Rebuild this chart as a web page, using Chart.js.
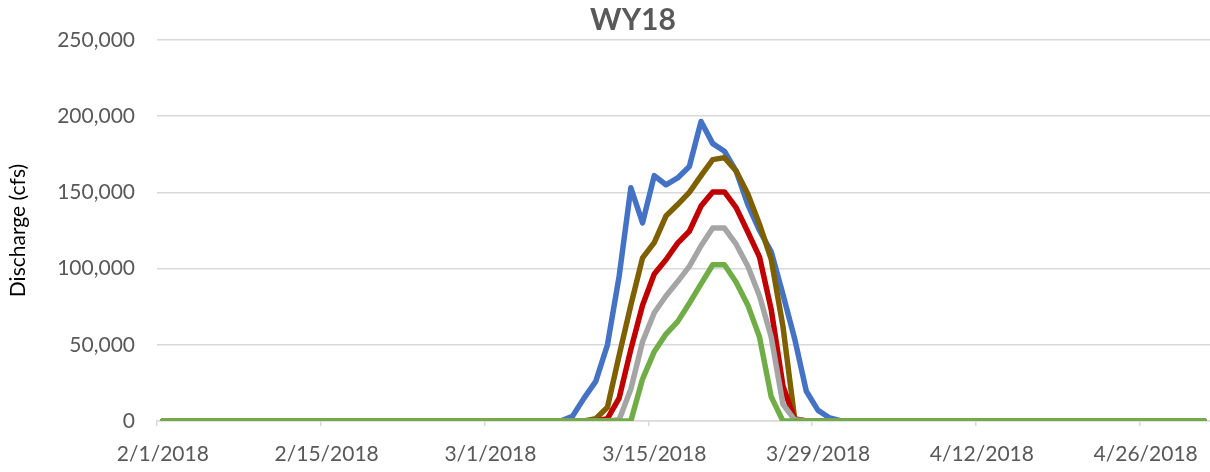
<!DOCTYPE html>
<html>
<head>
<meta charset="utf-8">
<script src="https://cdn.jsdelivr.net/npm/chart.js@4/dist/chart.umd.min.js"></script>
<style>
  body { margin: 0; background: #fff; }
  #wrap { width: 1210px; height: 472px; }
</style>
</head>
<body>
<div id="wrap"><canvas id="graph" width="1210" height="472"></canvas></div>
<script>
// daily categories, 2/1/2018 .. 5/1/2018
var startDate = [2018, 1, 1];
var dayCount = 90;
var labelEvery = 14;
var yTicks = [0, 50000, 100000, 150000, 200000, 250000];

var names = ['Series 1', 'Series 2', 'Series 3', 'Series 4', 'Series 5'];
var colors = ['#4472C4', '#7F6000', '#C00000', '#A5A5A5', '#70AD47'];

var blue = [
    0,0,0,0,0,0,0,0,0,0,
    0,0,0,0,0,0,0,0,0,0,
    0,0,0,0,0,0,0,0,0,0,
    0,0,0,0,0,3000,15000,26000,50000,95000,
    153000,130000,161000,155000,159500,167000,196500,182000,177000,164000,
    142000,125000,111000,83000,54000,19500,7000,2000,0,0,
    0,0,0,0,0,0,0,0,0,0,
    0,0,0,0,0,0,0,0,0,0,
    0,0,0,0,0,0,0,0,0,0
];
var brown = [
    0,0,0,0,0,0,0,0,0,0,
    0,0,0,0,0,0,0,0,0,0,
    0,0,0,0,0,0,0,0,0,0,
    0,0,0,0,0,0,0,1500,9000,43000,
    76000,107000,117000,134500,142000,150000,161000,171500,172800,164000,
    149000,129000,106000,62000,1500,0,0,0,0,0,
    0,0,0,0,0,0,0,0,0,0,
    0,0,0,0,0,0,0,0,0,0,
    0,0,0,0,0,0,0,0,0,0
];
var red = [
    0,0,0,0,0,0,0,0,0,0,
    0,0,0,0,0,0,0,0,0,0,
    0,0,0,0,0,0,0,0,0,0,
    0,0,0,0,0,0,0,0,1500,15000,
    47000,76000,96500,105800,116700,124500,141000,150300,150300,140000,
    124000,107500,73000,23000,1000,0,0,0,0,0,
    0,0,0,0,0,0,0,0,0,0,
    0,0,0,0,0,0,0,0,0,0,
    0,0,0,0,0,0,0,0,0,0
];
var gray = [
    0,0,0,0,0,0,0,0,0,0,
    0,0,0,0,0,0,0,0,0,0,
    0,0,0,0,0,0,0,0,0,0,
    0,0,0,0,0,0,0,0,0,800,
    21000,52000,71000,82000,91500,101500,115000,126600,126600,116000,
    101500,82000,55000,11000,800,0,0,0,0,0,
    0,0,0,0,0,0,0,0,0,0,
    0,0,0,0,0,0,0,0,0,0,
    0,0,0,0,0,0,0,0,0,0
];
var green = [
    0,0,0,0,0,0,0,0,0,0,
    0,0,0,0,0,0,0,0,0,0,
    0,0,0,0,0,0,0,0,0,0,
    0,0,0,0,0,0,0,0,0,0,
    0,27500,45500,57000,65200,77300,90000,102500,102500,91000,
    76000,55000,15800,0,0,0,0,0,0,0,
    0,0,0,0,0,0,0,0,0,0,
    0,0,0,0,0,0,0,0,0,0,
    0,0,0,0,0,0,0,0,0,0
];
var series = [blue, brown, red, gray, green];

function dayLabels(){
    var out = [];
    for(let i = 0; i < dayCount; i++){
        let d = new Date(startDate[0], startDate[1], startDate[2] + i);
        out.push((d.getMonth() + 1) + '/' + d.getDate() + '/' + d.getFullYear());
    }
    return out;
}

var titlePlugin = {
    id: 'wyTitle',
    afterDraw: function(chart){
        var c = chart.ctx;
        c.save();
        c.font = 'bold 30px Lato';
        c.fillStyle = '#595959';
        c.textAlign = 'center';
        c.textBaseline = 'alphabetic';
        c.fillText('WY18', 633, 30);
        c.restore();
    }
};

function buildChart(){
    var ctx = document.getElementById('graph').getContext('2d');
    var datasets = [];
    for(let i = 0; i < series.length; i++){
        datasets.push({
            label: names[i],
            data: series[i],
            borderColor: colors[i],
            backgroundColor: colors[i],
            borderWidth: 5.5,
            borderJoinStyle: 'round',
            borderCapStyle: 'round',
            pointRadius: 0,
            tension: 0,
            order: series.length - i
        });
    }
    new Chart(ctx, {
        type: 'line',
        data: { labels: dayLabels(), datasets: datasets },
        plugins: [titlePlugin],
        options: {
            responsive: false,
            animation: false,
            layout: { padding: { top: 40, right: 0, left: 0, bottom: 0 } },
            plugins: {
                legend: { display: false },
                tooltip: { enabled: false },
                title: { display: false }
            },
            scales: {
                x: {
                    offset: true,
                    grid: {
                        offset: true,
                        drawOnChartArea: false,
                        tickLength: 5,
                        lineWidth: 1.5,
                        tickColor: function(c){ return c.index % labelEvery === 0 ? '#d9d9d9' : 'rgba(0,0,0,0)'; }
                    },
                    border: { display: true, color: '#d9d9d9', width: 1.5 },
                    ticks: {
                        autoSkip: false,
                        maxRotation: 0,
                        minRotation: 0,
                        padding: 16,
                        color: '#595959',
                        font: { family: 'Lato', size: 21 },
                        callback: function(v, idx){ return idx % labelEvery === 0 ? this.getLabelForValue(v) : ''; }
                    },
                    afterFit: function(s){
                        s.height = 51;
                        s.paddingLeft = 0;
                        s.paddingRight = 0;
                    }
                },
                y: {
                    min: yTicks[0],
                    max: yTicks[yTicks.length - 1],
                    afterBuildTicks: function(s){ s.ticks = yTicks.map(function(v){ return { value: v }; }); },
                    grid: { color: '#d9d9d9', lineWidth: 1.5, drawTicks: false },
                    border: { display: false },
                    ticks: {
                        padding: 22,
                        color: '#595959',
                        font: { family: 'Lato', size: 21 },
                        callback: function(v){ return v.toLocaleString('en-US'); }
                    },
                    title: {
                        display: true,
                        text: 'Discharge (cfs)',
                        color: '#000',
                        font: { family: 'Lato', size: 21 },
                        padding: { top: 6, bottom: 0 }
                    },
                    afterFit: function(s){ s.width = 157; }
                }
            }
        }
    });
}

if(document.fonts && document.fonts.load){
    document.fonts.load('21px Lato').then(buildChart, buildChart);
}else{
    buildChart();
}
</script>
</body>
</html>
